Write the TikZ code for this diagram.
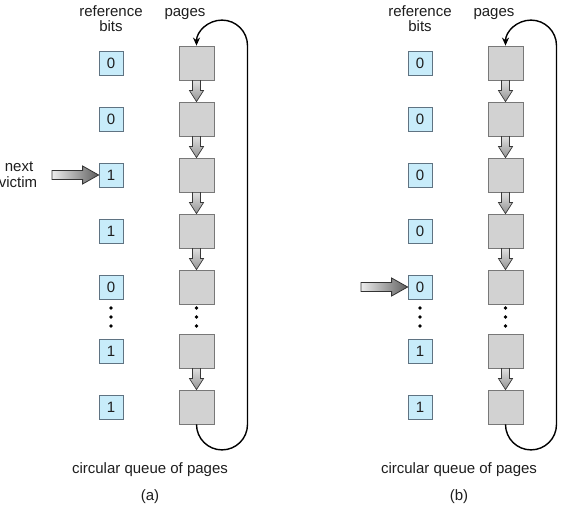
\documentclass[tikz,border=0pt]{standalone}
\usepackage{fontspec}
\setmainfont{Liberation Sans}
\usetikzlibrary{arrows.meta,calc}
\definecolor{bitfill}{RGB}{200,236,250}
\definecolor{bitdraw}{RGB}{95,115,130}
\definecolor{pagefill}{RGB}{210,210,210}
\definecolor{pagedraw}{RGB}{120,120,120}
\definecolor{txt}{RGB}{30,30,30}
\tikzset{
 bitbox/.style={draw=bitdraw, fill=bitfill, minimum width=24pt, minimum height=24pt, inner sep=0pt, line width=0.8pt, font=\fontsize{15}{17}\selectfont, text=txt},
 pagebox/.style={draw=pagedraw, fill=pagefill, minimum width=35pt, minimum height=34pt, inner sep=0pt, line width=0.8pt},
 lbl/.style={font=\fontsize{15}{17}\selectfont, text=txt, inner sep=0pt, anchor=base},
 vshade/.style={top color=gray!25, bottom color=gray!85, draw=gray!45!black, line width=0.7pt},
 hshade/.style={left color=gray!15, right color=gray!75!black, draw=gray!40!black, line width=0.8pt},
 looparrow/.style={line width=1.4pt, -{Stealth[length=8pt,width=7pt]}},
 dotmark/.style={fill=black},
}
\newcommand\pagearrow[2]{%
 \shadedraw[vshade] ($(#1.south)+(-4,0)$) -- ($(#2.north)+(-4,-11)$) -- ($(#2.north)+(-7,-11)$) -- (#2.north) -- ($(#2.north)+(7,-11)$) -- ($(#2.north)+(4,-11)$) -- ($(#1.south)+(4,0)$) -- cycle;}
\newcommand\victimarrow[2]{%
 \shadedraw[hshade] ($(#1)+(0,-4.5)$) -- ($(#2.west)+(-16,-4.5)$) -- ($(#2.west)+(-16,-9)$) -- (#2.west) -- ($(#2.west)+(-16,9)$) -- ($(#2.west)+(-16,4.5)$) -- ($(#1)+(0,4.5)$) -- cycle;}
\newcommand\panel[2]{%
 \foreach \yy/\vv [count=\i] in {#2} {
   \node[bitbox] (#1-b\i) at (111,\yy) {\vv};
   \node[pagebox] (#1-p\i) at (196.5,\yy) {};
 }
 \foreach \i/\j in {1/2,2/3,3/4,4/5,6/7} { \pagearrow{#1-p\i}{#1-p\j} }
 \foreach \yy in {308,317,326} {
   \fill[dotmark] (111,\yy) circle[radius=1.8pt];
   \fill[dotmark] (196.5,\yy) circle[radius=1.8pt];
 }
 \draw[looparrow] (#1-p7.south) arc[start angle=180,end angle=360,radius=25.5pt] -- ($(#1-p1.north)+(51,0)$) arc[start angle=0,end angle=180,radius=25.5pt];
 \node[lbl] (#1-ref) at (111,17) {reference};
 \node[lbl] (#1-bits) at (111,32) {bits};
 \node[lbl] (#1-pages) at (185,17) {pages};
 \node[lbl] (#1-queue) at (150,473) {circular queue of pages};
 \node[lbl] (#1-cap) at (150,500) {(#1)};
}
\begin{document}
\begin{tikzpicture}[x=1pt,y=-1pt]
\useasboundingbox (0,0) rectangle (584,521);
\fill[white] (0,0) rectangle (584,521);
\panel{a}{63/0,119/0,175/1,231/1,287/0,351/1,407/1}
\node[lbl] (nexttxt) at (19,172) {next};
\node[lbl] (victimtxt) at (18,188) {victim};
\coordinate (tailA) at (52,175);
\victimarrow{tailA}{a-b3}
\begin{scope}[xshift=309pt]
\panel{b}{63/0,119/0,175/0,231/0,287/0,351/1,407/1}
\coordinate (tailB) at (52,287);
\victimarrow{tailB}{b-b5}
\end{scope}
\end{tikzpicture}
\end{document}
